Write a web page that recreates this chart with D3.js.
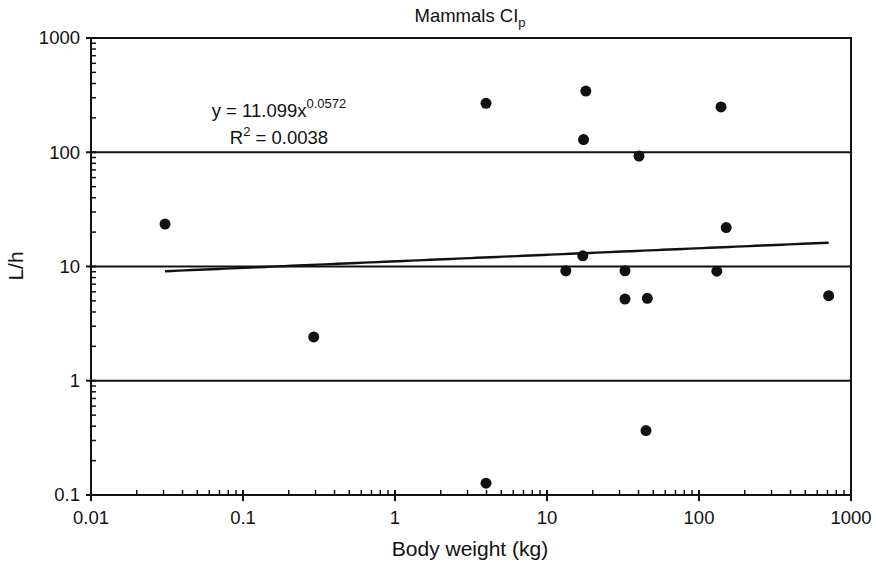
<!DOCTYPE html>
<html>
<head>
<meta charset="utf-8">
<script src="https://cdn.jsdelivr.net/npm/d3@7"></script>
<style>
  html, body { margin: 0; padding: 0; background: #fff; }
  svg { display: block; font-family: "Liberation Sans", Arial, Helvetica, sans-serif; }
</style>
</head>
<body>
<svg id="chart" width="876" height="562"></svg>
<script>
// Body weight (kg) and clearance (L/h) for each species
const bodyWeight = [0.0307, 0.292, 3.97, 3.97, 18.0, 17.4, 40.3, 139.6, 151, 17.2, 13.3, 32.6, 131, 32.6, 45.7, 713, 44.8];
const clearance  = [23.5, 2.42, 268, 0.127, 343, 129, 92.7, 249, 21.9, 12.4, 9.18, 9.18, 9.1, 5.19, 5.27, 5.55, 0.366];

// Power-law fit y = a * x^b
const fitA = 11.099;
const fitB = 0.0572;
const fitR2 = 0.0038;

const xTicks = [0.01, 0.1, 1, 10, 100, 1000];
const yTicks = [0.1, 1, 10, 100, 1000];
const xTickLabels = ["0.01", "0.1", "1", "10", "100", "1000"];
const yTickLabels = ["0.1", "1", "10", "100", "1000"];

const ink = "#111";
const svg = d3.select("#chart");
const plotL = 91, plotR = 851, plotT = 38, plotB = 495;

const x = d3.scaleLog().domain([0.01, 1000]).range([plotL, plotR]);
const y = d3.scaleLog().domain([0.1, 1000]).range([plotB, plotT]);

// minor ticks: 2..9 inside each decade
function minors(ticks) {
  const out = [];
  for (let i = 0; i < ticks.length - 1; i++)
    for (let k = 2; k <= 9; k++) out.push(ticks[i] * k);
  return out;
}

// horizontal grid lines at the inner decades
svg.append("g").selectAll("line")
  .data(yTicks.slice(1, -1))
  .join("line")
  .attr("x1", plotL).attr("x2", plotR)
  .attr("y1", d => y(d)).attr("y2", d => y(d))
  .attr("stroke", ink).attr("stroke-width", 2);

// frame
svg.append("rect")
  .attr("x", plotL).attr("y", plotT)
  .attr("width", plotR - plotL).attr("height", plotB - plotT)
  .attr("fill", "none").attr("stroke", ink).attr("stroke-width", 2);

// y axis ticks
const yAx = svg.append("g");
yAx.selectAll(".minor").data(minors(yTicks)).join("line")
  .attr("class", "minor")
  .attr("x1", plotL).attr("x2", plotL + 5)
  .attr("y1", d => y(d)).attr("y2", d => y(d))
  .attr("stroke", ink).attr("stroke-width", 1.5);
yAx.selectAll(".major").data(yTicks).join("line")
  .attr("class", "major")
  .attr("x1", plotL - 5).attr("x2", plotL + 5)
  .attr("y1", d => y(d)).attr("y2", d => y(d))
  .attr("stroke", ink).attr("stroke-width", 2);
yAx.selectAll("text").data(yTicks).join("text")
  .attr("x", plotL - 11).attr("y", d => y(d))
  .attr("dy", "0.35em")
  .attr("text-anchor", "end")
  .attr("font-size", 18.5).attr("fill", ink)
  .text((d, i) => yTickLabels[i]);

// x axis ticks
const xAx = svg.append("g");
xAx.selectAll(".minor").data(minors(xTicks)).join("line")
  .attr("class", "minor")
  .attr("x1", d => x(d)).attr("x2", d => x(d))
  .attr("y1", plotB).attr("y2", plotB - 5)
  .attr("stroke", ink).attr("stroke-width", 1.5);
xAx.selectAll(".major").data(xTicks).join("line")
  .attr("class", "major")
  .attr("x1", d => x(d)).attr("x2", d => x(d))
  .attr("y1", plotB - 5).attr("y2", plotB + 6)
  .attr("stroke", ink).attr("stroke-width", 2);
xAx.selectAll("text").data(xTicks).join("text")
  .attr("x", d => x(d)).attr("y", 524)
  .attr("text-anchor", "middle")
  .attr("font-size", 18.5).attr("fill", ink)
  .text((d, i) => xTickLabels[i]);

// fitted curve across the observed weight range
const [xMin, xMax] = d3.extent(bodyWeight);
const fitPts = d3.range(0, 101).map(i => {
  const w = Math.pow(10, Math.log10(xMin) + (Math.log10(xMax) - Math.log10(xMin)) * i / 100);
  return [w, fitA * Math.pow(w, fitB)];
});
svg.append("path")
  .datum(fitPts)
  .attr("d", d3.line().x(d => x(d[0])).y(d => y(d[1])))
  .attr("fill", "none").attr("stroke", ink).attr("stroke-width", 2.4);

// data points
svg.append("g").selectAll("circle")
  .data(bodyWeight.map((w, i) => [w, clearance[i]]))
  .join("circle")
  .attr("cx", d => x(d[0])).attr("cy", d => y(d[1]))
  .attr("r", 5.5).attr("fill", ink);

// equation and R²
const eq = svg.append("text")
  .attr("x", 279).attr("y", 117)
  .attr("text-anchor", "middle")
  .attr("font-size", 18.5).attr("fill", ink);
eq.append("tspan").text("y = " + fitA.toFixed(3) + "x");
eq.append("tspan").attr("font-size", 13).attr("dy", -9).text(String(fitB));

const r2 = svg.append("text")
  .attr("x", 279).attr("y", 144)
  .attr("text-anchor", "middle")
  .attr("font-size", 18.5).attr("fill", ink);
r2.append("tspan").text("R");
r2.append("tspan").attr("font-size", 13).attr("dy", -8).text("2");
r2.append("tspan").attr("dy", 8).text(" = " + fitR2.toFixed(4));

// title
const title = svg.append("text")
  .attr("x", 470).attr("y", 22)
  .attr("text-anchor", "middle")
  .attr("font-size", 18.5).attr("fill", ink);
title.append("tspan").text("Mammals CI");
title.append("tspan").attr("font-size", 13).attr("dy", 5).text("p");

// axis titles
svg.append("text")
  .attr("x", 470).attr("y", 556)
  .attr("text-anchor", "middle")
  .attr("font-size", 21).attr("fill", ink)
  .text("Body weight (kg)");

svg.append("text")
  .attr("transform", "translate(23,266) rotate(-90)")
  .attr("text-anchor", "middle")
  .attr("font-size", 21).attr("fill", ink)
  .text("L/h");
</script>
</body>
</html>
